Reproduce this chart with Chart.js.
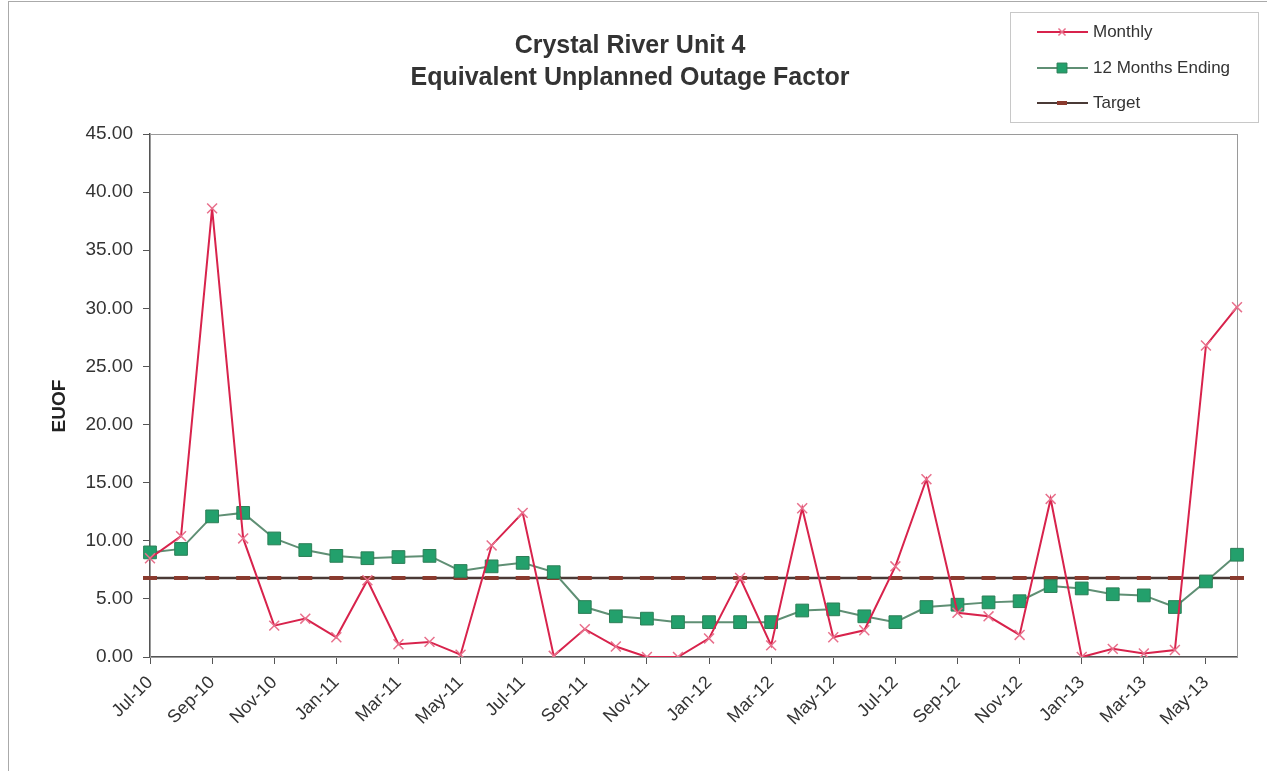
<!DOCTYPE html>
<html>
<head>
<meta charset="utf-8">
<script src="https://cdn.jsdelivr.net/npm/chart.js@4.4.0/dist/chart.umd.min.js"></script>
<style>
  body { margin: 0; background: #fff; }
  #wrap { position: relative; width: 1267px; height: 771px; }
  #frame { position: absolute; left: 8px; top: 1px; right: 0; bottom: 0; border-left: 1px solid #aaa; border-top: 1px solid #aaa; pointer-events: none; }
</style>
</head>
<body>
<div id="wrap">
  <canvas id="euof" width="1267" height="771"></canvas>
  <div id="frame"></div>
</div>
<script>
// months Jul-10 .. Jun-13
const months = [
  'Jul-10','Aug-10','Sep-10','Oct-10','Nov-10','Dec-10',
  'Jan-11','Feb-11','Mar-11','Apr-11','May-11','Jun-11',
  'Jul-11','Aug-11','Sep-11','Oct-11','Nov-11','Dec-11',
  'Jan-12','Feb-12','Mar-12','Apr-12','May-12','Jun-12',
  'Jul-12','Aug-12','Sep-12','Oct-12','Nov-12','Dec-12',
  'Jan-13','Feb-13','Mar-13','Apr-13','May-13','Jun-13'
];
const monthly = [
  8.5, 10.4, 38.6, 10.2, 2.7, 3.3,
  1.7, 6.6, 1.1, 1.3, 0.2, 9.6,
  12.4, 0.1, 2.4, 0.9, 0.0, 0.0,
  1.6, 6.8, 1.0, 12.8, 1.7, 2.3,
  7.8, 15.3, 3.8, 3.5, 1.9, 13.6,
  0.0, 0.7, 0.3, 0.6, 26.8, 30.1
];
const rolling12 = [
  9.0, 9.3, 12.1, 12.4, 10.2, 9.2,
  8.7, 8.5, 8.6, 8.7, 7.4, 7.8,
  8.1, 7.3, 4.3, 3.5, 3.3, 3.0,
  3.0, 3.0, 3.0, 4.0, 4.1, 3.5,
  3.0, 4.3, 4.5, 4.7, 4.8, 6.1,
  5.9, 5.4, 5.3, 4.3, 6.5, 8.8
];
const targetValue = 6.8;
const target = months.map(() => targetValue);
const yTicks = [0, 5, 10, 15, 20, 25, 30, 35, 40, 45];

const FONT = "'Liberation Sans', Arial, sans-serif";

// gray box round the plot area
const plotBox = {
  id: 'plotBox',
  beforeDatasetsDraw(chart) {
    const a = chart.chartArea, ctx = chart.ctx;
    ctx.save();
    ctx.strokeStyle = '#9a9a9a';
    ctx.lineWidth = 1;
    ctx.strokeRect(a.left + 0.5, a.top + 0.5, a.right - a.left, a.bottom - a.top);
    ctx.restore();
  }
};

// legend box top right
const boxLegend = {
  id: 'boxLegend',
  afterDraw(chart) {
    const ctx = chart.ctx;
    const x = 1010, y = 12, w = 248, h = 110;
    ctx.save();
    ctx.strokeStyle = '#c8c8c8';
    ctx.lineWidth = 1;
    ctx.strokeRect(x + 0.5, y + 0.5, w, h);
    const rows = [32, 68, 103];
    chart.data.datasets.forEach((ds, i) => {
      const ry = rows[i];
      ctx.strokeStyle = ds.borderColor;
      ctx.lineWidth = 2;
      ctx.beginPath();
      ctx.moveTo(1037, ry);
      ctx.lineTo(1088, ry);
      ctx.stroke();
      ctx.fillStyle = ds.pointBackgroundColor;
      ctx.strokeStyle = ds.pointBorderColor;
      ctx.lineWidth = ds.pointBorderWidth;
      Chart.helpers.drawPoint(ctx, {
        pointStyle: ds.pointStyle,
        radius: ds.legendRadius,
        borderWidth: ds.pointBorderWidth
      }, 1062, ry);
      ctx.fillStyle = '#333';
      ctx.font = '17px ' + FONT;
      ctx.textBaseline = 'middle';
      ctx.fillText(ds.label, 1093, ry);
    });
    ctx.restore();
  }
};

new Chart(document.getElementById('euof'), {
  type: 'line',
  data: {
    labels: months,
    datasets: [
      {
        label: 'Monthly',
        data: monthly,
        borderColor: '#d8234c',
        borderWidth: 2,
        pointStyle: 'crossRot',
        pointRadius: 7,
        legendRadius: 5,
        pointBorderColor: '#e8708c',
        pointBackgroundColor: '#e8708c',
        pointBorderWidth: 1.5,
        tension: 0
      },
      {
        label: '12 Months Ending',
        data: rolling12,
        borderColor: '#5f8f74',
        borderWidth: 2,
        pointStyle: 'rect',
        pointRadius: 9,
        legendRadius: 7,
        pointBorderColor: '#2c7f57',
        pointBackgroundColor: '#23a06c',
        pointBorderWidth: 1,
        tension: 0
      },
      {
        label: 'Target',
        data: target,
        borderColor: '#4a3a36',
        borderWidth: 2.5,
        pointStyle: 'line',
        pointRadius: 7,
        legendRadius: 5,
        pointBorderColor: '#8a3a2e',
        pointBackgroundColor: '#8a3a2e',
        pointBorderWidth: 4,
        tension: 0
      }
    ]
  },
  options: {
    responsive: false,
    animation: false,
    layout: { padding: { left: 0, right: 7, top: 0, bottom: 0 } },
    plugins: {
      legend: { display: false },
      tooltip: { enabled: false },
      title: {
        display: true,
        text: ['Crystal River Unit 4', 'Equivalent Unplanned Outage Factor'],
        color: '#333',
        font: { family: FONT, size: 25, weight: 'bold', lineHeight: 1.28 },
        padding: { top: 30, bottom: 40 }
      }
    },
    scales: {
      x: {
        offset: false,
        grid: { drawOnChartArea: false, offset: false, color: '#555', tickLength: 7 },
        border: { color: '#555', width: 1.5 },
        ticks: {
          autoSkip: false,
          maxRotation: 45,
          minRotation: 45,
          padding: 8,
          color: '#333',
          font: { family: FONT, size: 18 },
          callback: (v, i) => (i % 2 === 0 ? months[i] : null)
        },
        afterFit: (s) => { s.height = 114; }
      },
      y: {
        min: 0,
        max: 45,
        afterBuildTicks: (s) => { s.ticks = yTicks.map(v => ({ value: v })); },
        grid: { drawOnChartArea: false, color: '#555', tickLength: 7 },
        border: { color: '#555', width: 1.5 },
        ticks: {
          padding: 10,
          color: '#333',
          font: { family: FONT, size: 19 },
          callback: (v) => v.toFixed(2)
        },
        title: {
          display: true,
          text: 'EUOF\u00a0\u00a0\u00a0\u00a0',
          color: '#222',
          font: { family: FONT, size: 19, weight: 'bold' },
          padding: { top: 48, bottom: 0 }
        },
        afterFit: (s) => { s.width = 150; }
      },
      // empty strip on the right so the title centres like the original
      pad: {
        position: 'right',
        display: true,
        grid: { display: false },
        border: { display: false },
        ticks: { display: false },
        afterFit: (s) => { s.width = 23; }
      }
    }
  },
  plugins: [plotBox, boxLegend]
});
</script>
</body>
</html>
